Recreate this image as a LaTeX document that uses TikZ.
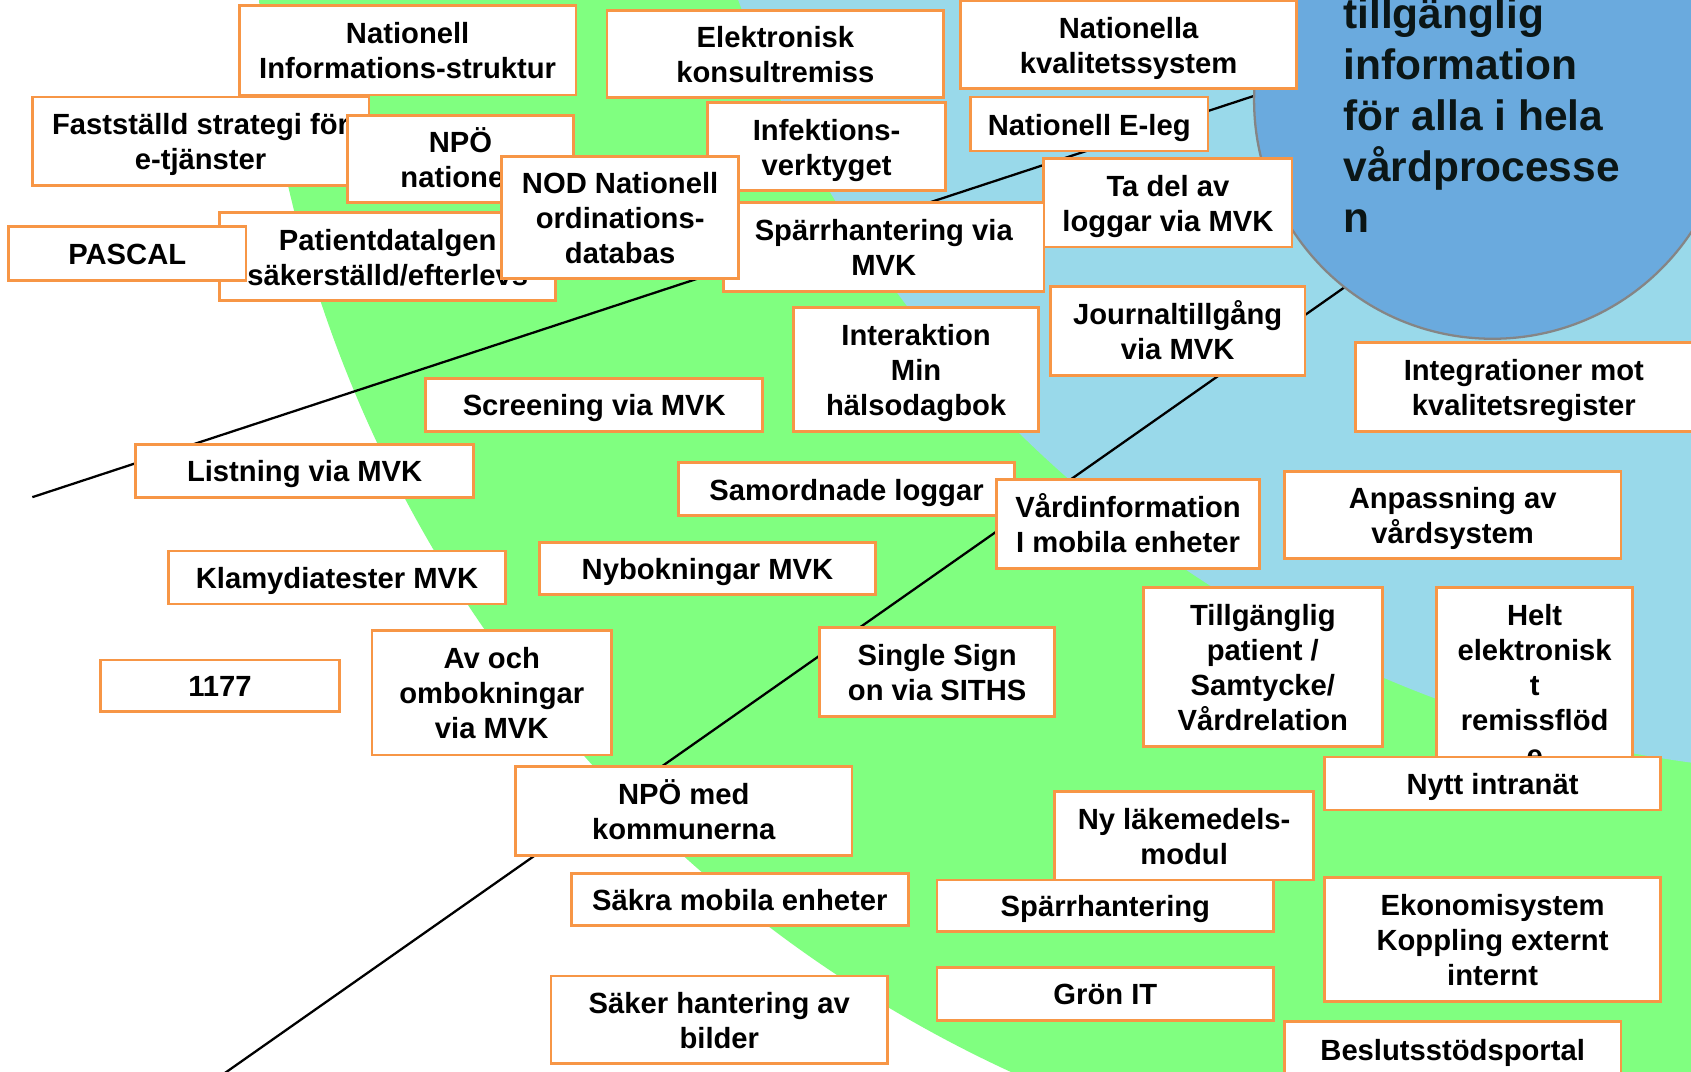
\documentclass[tikz,border=0pt]{standalone}
\usepackage{fontspec}
\setmainfont{Liberation Sans}
\definecolor{ringgreen}{HTML}{80FF80}
\definecolor{ringblue}{HTML}{99D9EA}
\definecolor{goalblue}{HTML}{6AAADE}
\definecolor{goalgray}{HTML}{858585}
\definecolor{goalink}{HTML}{0B1616}
\definecolor{boxorange}{HTML}{F79646}
% every row of a box gets the same height and depth
\newcommand\rowstrut{\rule[-1.7pt]{0pt}{9.2pt}}
\def\boxrow{\hfil\rowstrut##\hfil\cr}

\begin{document}
\begin{tikzpicture}[x=0.01cm, y=-0.01cm,
  box/.style={draw=boxorange, line width=0.75pt, fill=white, inner sep=0pt, align=center,
    node halign header=\boxrow, execute at begin node=\rowstrut,
    font=\bfseries\fontsize{7.7}{9.25}\selectfont},
  goalline/.style={text=goalink, inner sep=0pt, font=\bfseries\fontsize{11.2}{13.4}\selectfont},
  spoke/.style={line width=0.6pt}]
  \useasboundingbox (0,0) rectangle (1568,994);
  \clip (0,0) rectangle (1568,994);
  % rings behind the boxes
  \fill[white] (0,0) rectangle (1568,994);
  \fill[ringgreen] (1441,-101) circle (1205);
  \fill[ringblue] (1716,-383) circle (1100);
  % the two spokes
  \coordinate (spokeA) at (30,461);
  \coordinate (hubA) at (1260,57);
  \coordinate (spokeB) at (180,1015);
  \coordinate (hubB) at (1300,229);
  \draw[spoke] (spokeA) -- (hubA);
  \draw[spoke] (spokeB) -- (hubB);
  % goal circle
  \node[circle, draw=goalgray, line width=0.6pt, fill=goalblue, minimum size=4.42cm, inner sep=0pt] (goal) at (1384,93) {};
  \foreach \txt [count=\i] in {tillgänglig, information, för alla i hela, vårdprocesse, n}
    \node[goalline, anchor=base west] (goal-\i) at (1245,{26+47.3*(\i-1)}) {\txt};

  % top rows
  \node[box, minimum width=3.12cm, minimum height=0.83cm] (natinfo) at (378,46.5) {Nationell\\Informations-struktur};
  \node[box, minimum width=3.12cm, minimum height=0.81cm] (elkons) at (719,50) {Elektronisk\\konsultremiss};
  \node[box, minimum width=3.11cm, minimum height=0.81cm] (natkval) at (1046.5,41.5) {Nationella\\kvalitetssystem};
  \node[box, minimum width=3.12cm, minimum height=0.82cm] (strategi) at (186,131) {Fastställd strategi för\\e-tjänster};
  \node[box, minimum width=2.10cm, minimum height=0.81cm] (npo) at (427,147.5) {NPÖ\\nationell};
  \node[box, minimum width=2.21cm, minimum height=0.82cm] (infekt) at (766.5,136) {Infektions-\\verktyget};
  \node[box, minimum width=2.20cm, minimum height=0.50cm] (eleg) at (1010,115) {Nationell E-leg};
  \node[box, minimum width=2.30cm, minimum height=0.82cm] (taddel) at (1083,188) {Ta del av\\loggar via MVK};
  \node[box, minimum width=2.97cm, minimum height=0.82cm] (sparrmvk) at (819.5,229) {Spärrhantering via\\MVK};
  \node[box, minimum width=3.11cm, minimum height=0.82cm] (patdata) at (359.5,238) {Patientdatalgen\\säkerställd/efterlevs};
  \node[box, minimum width=2.20cm, minimum height=0.50cm] (pascal) at (118,235) {PASCAL};
  \node[box, minimum width=2.20cm, minimum height=1.13cm] (nod) at (575,201.5) {NOD Nationell\\ordinations-\\databas};

  % middle rows
  \node[box, minimum width=2.36cm, minimum height=0.82cm] (journal) at (1092,307) {Journaltillgång\\via MVK};
  \node[box, minimum width=2.27cm, minimum height=1.15cm] (interakt) at (849.5,342.5) {Interaktion\\Min\\hälsodagbok};
  \node[box, minimum width=3.12cm, minimum height=0.49cm] (screening) at (551,375.5) {Screening via MVK};
  \node[box, minimum width=3.12cm, minimum height=0.82cm] (integr) at (1413,359) {Integrationer mot\\kvalitetsregister};
  \node[box, minimum width=3.13cm, minimum height=0.49cm] (listning) at (282.5,436.5) {Listning via MVK};
  \node[box, minimum width=3.12cm, minimum height=0.49cm] (samord) at (785,453.5) {Samordnade loggar};
  \node[box, minimum width=2.44cm, minimum height=0.82cm] (vardinfo) at (1046,486) {Vårdinformation\\I mobila enheter};
  \node[box, minimum width=3.12cm, minimum height=0.81cm] (anpass) at (1347,477.5) {Anpassning av\\vårdsystem};
  \node[box, minimum width=3.13cm, minimum height=0.49cm] (klamydia) at (312.5,535.5) {Klamydiatester MVK};
  \node[box, minimum width=3.12cm, minimum height=0.48cm] (nybokn) at (656,527) {Nybokningar MVK};
  \node[box, minimum width=2.22cm, minimum height=0.48cm] (elvasju) at (204,636) {1177};
  \node[box, minimum width=2.22cm, minimum height=1.15cm] (ombokn) at (456,642.5) {Av och\\ombokningar\\via MVK};
  \node[box, minimum width=2.18cm, minimum height=0.82cm] (sso) at (869,623) {Single Sign\\on via SITHS};
  \node[box, minimum width=2.22cm, minimum height=1.47cm] (samtycke) at (1171,618.5) {Tillgänglig\\patient /\\Samtycke/\\Vårdrelation};
  \node[box, minimum width=1.82cm, minimum height=1.80cm] (remiss) at (1423,635) {Helt\\elektronisk\\t\\remissflöd\\e};

  % bottom rows
  \node[box, minimum width=3.12cm, minimum height=0.49cm] (intranat) at (1384,726.5) {Nytt intranät};
  \node[box, minimum width=3.12cm, minimum height=0.82cm] (npomed) at (634,752) {NPÖ med\\kommunerna};
  \node[box, minimum width=2.40cm, minimum height=0.82cm] (lakemedel) at (1098,775) {Ny läkemedels-\\modul};
  \node[box, minimum width=3.12cm, minimum height=0.48cm] (sakramob) at (686,834) {Säkra mobila enheter};
  \node[box, minimum width=3.12cm, minimum height=0.48cm] (sparr) at (1025,840) {Spärrhantering};
  \node[box, minimum width=3.12cm, minimum height=1.15cm] (ekonomi) at (1384,871.5) {Ekonomisystem\\Koppling externt\\internt};
  \node[box, minimum width=3.12cm, minimum height=0.81cm] (bilder) at (667,945.5) {Säker hantering av\\bilder};
  \node[box, minimum width=3.12cm, minimum height=0.49cm] (gronit) at (1025,921.5) {Grön IT};
  \node[box, minimum width=3.12cm, minimum height=0.52cm] (beslut) at (1347,973) {Beslutsstödsportal};
\end{tikzpicture}
\end{document}
